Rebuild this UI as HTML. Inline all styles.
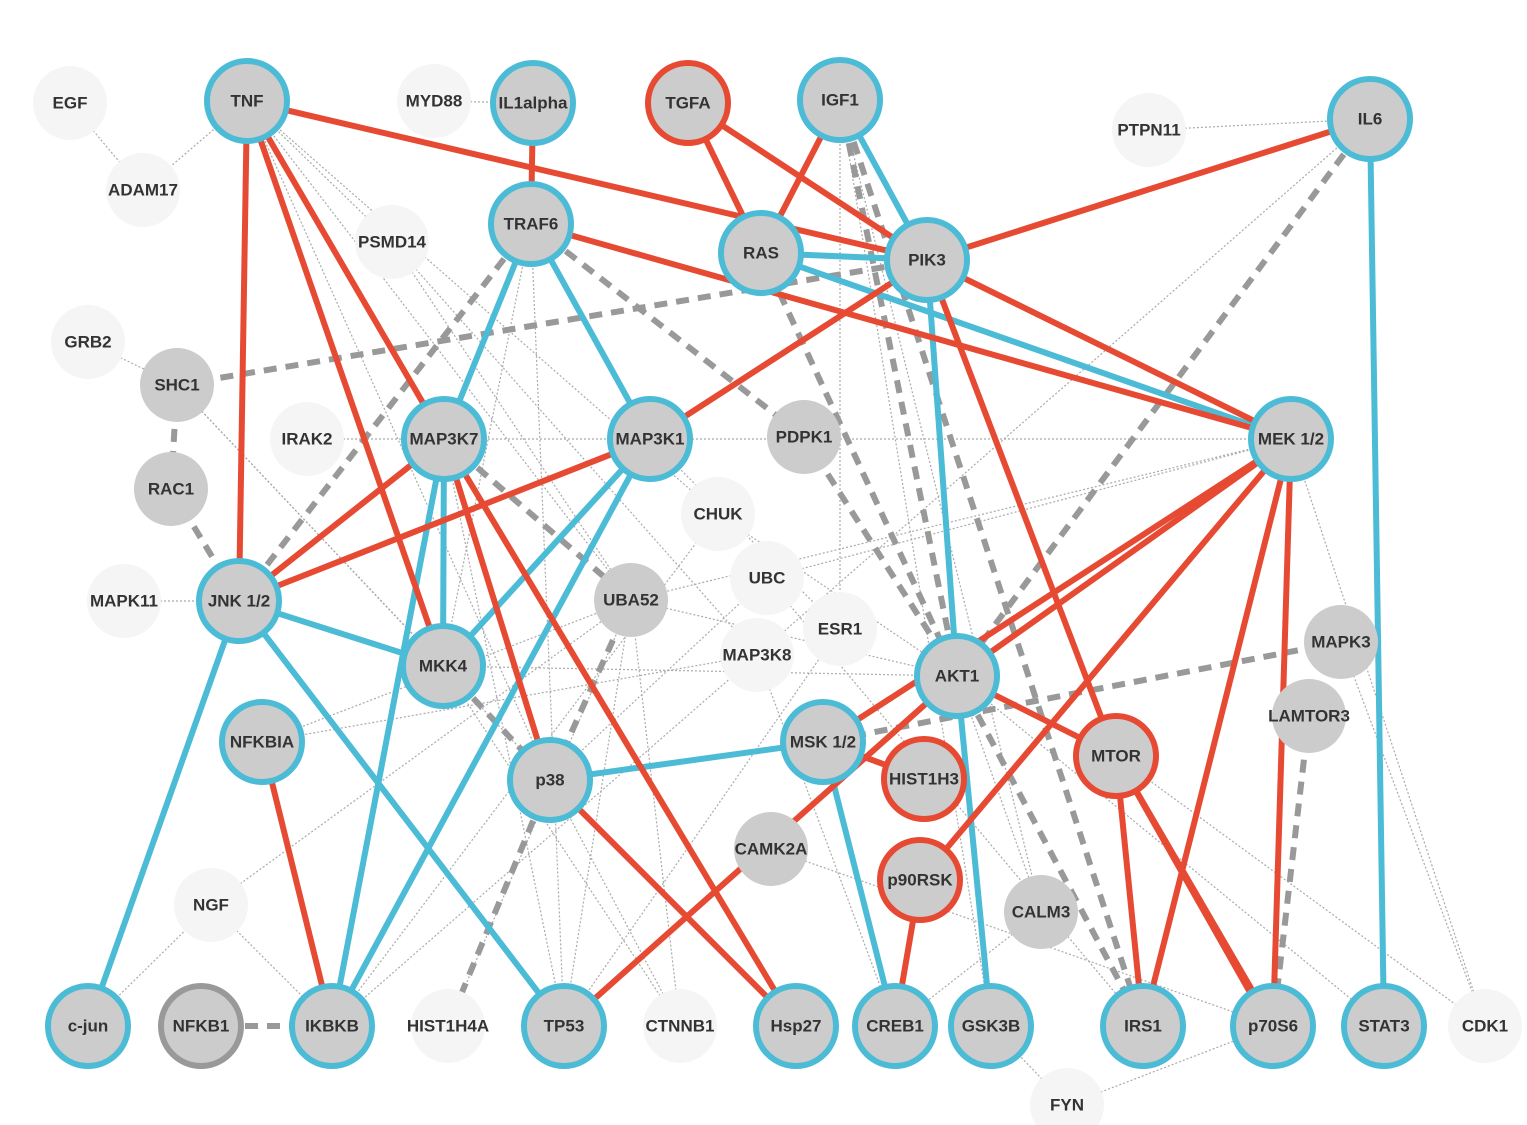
<!DOCTYPE html>
<html><head><meta charset="utf-8"><style>
html,body{margin:0;padding:0;background:#fff}
svg{display:block}
text{font-family:"Liberation Sans",sans-serif;font-weight:bold;font-size:17px;fill:#333;text-anchor:middle;dominant-baseline:central}
.r{stroke:#e64a33;stroke-width:6;fill:none}
.b{stroke:#4cbbd6;stroke-width:6;fill:none}
.d{stroke:#999;stroke-width:6;stroke-dasharray:13 9;fill:none}
.t{stroke:#aaa;stroke-width:1.2;stroke-dasharray:2 2;fill:none}
</style></head><body>
<svg width="1527" height="1125" viewBox="0 0 1527 1125" xmlns="http://www.w3.org/2000/svg">
<!-- thin dotted -->
<g class="t">
<line x1="70" y1="103" x2="143" y2="190"/><line x1="247" y1="101" x2="143" y2="190"/>
<line x1="434" y1="101" x2="533" y2="103"/><line x1="1149" y1="130" x2="1370" y2="119"/>
<line x1="88" y1="342" x2="177" y2="385"/><line x1="124" y1="601" x2="239" y2="601"/>
<line x1="247" y1="101" x2="392" y2="242"/><line x1="247" y1="101" x2="631" y2="600"/>
<line x1="247" y1="101" x2="550" y2="780"/><line x1="247" y1="101" x2="718" y2="514"/>
<line x1="392" y1="242" x2="757" y2="655"/><line x1="392" y1="242" x2="631" y2="600"/>
<line x1="444" y1="439" x2="1291" y2="439"/><line x1="307" y1="439" x2="444" y2="439"/>
<line x1="177" y1="385" x2="443" y2="666"/><line x1="177" y1="385" x2="550" y2="780"/>
<line x1="840" y1="100" x2="840" y2="629"/><line x1="840" y1="100" x2="1041" y2="912"/>
<line x1="840" y1="100" x2="991" y2="1026"/><line x1="1370" y1="119" x2="757" y2="655"/>
<line x1="1291" y1="439" x2="631" y2="600"/><line x1="1291" y1="439" x2="767" y2="578"/>
<line x1="1291" y1="439" x2="1485" y2="1026"/><line x1="1341" y1="642" x2="1485" y2="1026"/>
<line x1="443" y1="666" x2="957" y2="676"/><line x1="262" y1="742" x2="757" y2="655"/>
<line x1="262" y1="742" x2="631" y2="600"/><line x1="211" y1="905" x2="631" y2="600"/>
<line x1="88" y1="1026" x2="211" y2="905"/><line x1="211" y1="905" x2="332" y2="1026"/>
<line x1="332" y1="1026" x2="757" y2="655"/><line x1="564" y1="1026" x2="631" y2="600"/>
<line x1="564" y1="1026" x2="444" y2="439"/><line x1="564" y1="1026" x2="840" y2="629"/>
<line x1="680" y1="1026" x2="550" y2="780"/><line x1="680" y1="1026" x2="631" y2="600"/>
<line x1="680" y1="1026" x2="443" y2="666"/><line x1="757" y1="655" x2="895" y2="1026"/>
<line x1="631" y1="600" x2="957" y2="676"/><line x1="718" y1="514" x2="957" y2="676"/>
<line x1="767" y1="578" x2="1143" y2="1026"/><line x1="771" y1="849" x2="1273" y2="1026"/>
<line x1="957" y1="676" x2="1384" y2="1026"/><line x1="1116" y1="756" x2="1485" y2="1026"/>
<line x1="1067" y1="1105" x2="1273" y2="1026"/><line x1="1067" y1="1105" x2="991" y2="1026"/>
<line x1="448" y1="1026" x2="631" y2="600"/><line x1="650" y1="439" x2="840" y2="629"/>
<line x1="531" y1="224" x2="564" y2="1026"/><line x1="531" y1="224" x2="443" y2="666"/>
<line x1="1041" y1="912" x2="895" y2="1026"/><line x1="957" y1="676" x2="1041" y2="912"/>
<line x1="550" y1="780" x2="767" y2="578"/><line x1="332" y1="1026" x2="718" y2="514"/>
</g>
<!-- dashed -->
<g class="d">
<line x1="177" y1="385" x2="927" y2="260"/><line x1="177" y1="385" x2="171" y2="489"/>
<line x1="171" y1="489" x2="239" y2="601"/><line x1="531" y1="224" x2="239" y2="601"/>
<line x1="531" y1="224" x2="804" y2="437"/><line x1="804" y1="437" x2="957" y2="676"/>
<line x1="761" y1="253" x2="957" y2="676"/><line x1="840" y1="100" x2="957" y2="676"/>
<line x1="840" y1="100" x2="1143" y2="1026"/><line x1="1370" y1="119" x2="957" y2="676"/>
<line x1="1341" y1="642" x2="823" y2="742"/><line x1="1309" y1="716" x2="1273" y2="1026"/>
<line x1="201" y1="1026" x2="332" y2="1026"/><line x1="444" y1="439" x2="631" y2="600"/>
<line x1="631" y1="600" x2="550" y2="780"/><line x1="550" y1="780" x2="448" y2="1026"/>
<line x1="957" y1="676" x2="1143" y2="1026"/><line x1="443" y1="666" x2="550" y2="780"/>
</g>
<!-- blue -->
<g class="b">
<line x1="531" y1="224" x2="444" y2="439"/><line x1="531" y1="224" x2="650" y2="439"/>
<line x1="761" y1="253" x2="927" y2="260"/><line x1="761" y1="253" x2="1291" y2="439"/>
<line x1="840" y1="100" x2="927" y2="260"/><line x1="927" y1="260" x2="957" y2="676"/>
<line x1="1370" y1="119" x2="1384" y2="1026"/><line x1="444" y1="439" x2="443" y2="666"/>
<line x1="444" y1="439" x2="332" y2="1026"/><line x1="650" y1="439" x2="443" y2="666"/>
<line x1="650" y1="439" x2="332" y2="1026"/><line x1="239" y1="601" x2="443" y2="666"/>
<line x1="239" y1="601" x2="564" y2="1026"/><line x1="239" y1="601" x2="88" y2="1026"/>
<line x1="550" y1="780" x2="823" y2="742"/><line x1="823" y1="742" x2="895" y2="1026"/>
<line x1="957" y1="676" x2="991" y2="1026"/>
</g>
<!-- red -->
<g class="r">
<line x1="247" y1="101" x2="927" y2="260"/><line x1="247" y1="101" x2="239" y2="601"/>
<line x1="247" y1="101" x2="444" y2="439"/><line x1="247" y1="101" x2="443" y2="666"/>
<line x1="533" y1="103" x2="531" y2="224"/><line x1="688" y1="103" x2="761" y2="253"/>
<line x1="688" y1="103" x2="927" y2="260"/><line x1="840" y1="100" x2="761" y2="253"/>
<line x1="1370" y1="119" x2="927" y2="260"/><line x1="531" y1="224" x2="1291" y2="439"/>
<line x1="927" y1="260" x2="650" y2="439"/><line x1="927" y1="260" x2="1291" y2="439"/>
<line x1="927" y1="260" x2="1116" y2="756"/><line x1="444" y1="439" x2="239" y2="601"/>
<line x1="650" y1="439" x2="239" y2="601"/><line x1="444" y1="439" x2="550" y2="780"/>
<line x1="444" y1="439" x2="796" y2="1026"/><line x1="550" y1="780" x2="796" y2="1026"/>
<line x1="1291" y1="439" x2="957" y2="676"/><line x1="1291" y1="439" x2="823" y2="742"/>
<line x1="1291" y1="439" x2="920" y2="880"/><line x1="1291" y1="439" x2="1143" y2="1026"/>
<line x1="1291" y1="439" x2="1273" y2="1026"/><line x1="957" y1="676" x2="1116" y2="756"/>
<line x1="823" y1="742" x2="924" y2="779"/><line x1="1116" y1="756" x2="1143" y2="1026"/>
<line x1="1116" y1="756" x2="1273" y2="1026"/><line x1="1116" y1="756" x2="1260" y2="1010"/>
<line x1="920" y1="880" x2="895" y2="1026"/><line x1="262" y1="742" x2="332" y2="1026"/>
<line x1="957" y1="676" x2="564" y2="1026"/>
</g>
<!-- light nodes -->
<g fill="#f5f5f5">
<circle cx="70" cy="103" r="37"/><circle cx="143" cy="190" r="37"/><circle cx="434" cy="101" r="37"/>
<circle cx="392" cy="242" r="37"/><circle cx="1149" cy="130" r="37"/><circle cx="88" cy="342" r="37"/>
<circle cx="307" cy="439" r="37"/><circle cx="718" cy="514" r="37"/><circle cx="767" cy="578" r="37"/>
<circle cx="840" cy="629" r="37"/><circle cx="757" cy="655" r="37"/><circle cx="124" cy="601" r="37"/>
<circle cx="211" cy="905" r="37"/><circle cx="448" cy="1026" r="37"/><circle cx="680" cy="1026" r="37"/>
<circle cx="1485" cy="1026" r="37"/><circle cx="1067" cy="1105" r="37"/>
</g>
<!-- gray nodes -->
<g fill="#cccccc">
<circle cx="177" cy="385" r="37"/><circle cx="171" cy="489" r="37"/><circle cx="804" cy="437" r="37"/>
<circle cx="631" cy="600" r="37"/><circle cx="1341" cy="642" r="37"/><circle cx="1309" cy="716" r="37"/>
<circle cx="771" cy="849" r="37"/><circle cx="1041" cy="912" r="37"/>
</g>
<!-- blue-outlined -->
<g fill="#cccccc" stroke="#4cbbd6" stroke-width="6">
<circle cx="247" cy="101" r="40"/><circle cx="533" cy="103" r="40"/><circle cx="840" cy="100" r="40"/>
<circle cx="1370" cy="119" r="40"/><circle cx="531" cy="224" r="40"/><circle cx="761" cy="253" r="40"/>
<circle cx="927" cy="260" r="40"/><circle cx="444" cy="439" r="40"/><circle cx="650" cy="439" r="40"/>
<circle cx="1291" cy="439" r="40"/><circle cx="239" cy="601" r="40"/><circle cx="443" cy="666" r="40"/>
<circle cx="957" cy="676" r="40"/><circle cx="262" cy="742" r="40"/><circle cx="550" cy="780" r="40"/>
<circle cx="823" cy="742" r="40"/><circle cx="88" cy="1026" r="40"/><circle cx="332" cy="1026" r="40"/>
<circle cx="564" cy="1026" r="40"/><circle cx="796" cy="1026" r="40"/><circle cx="895" cy="1026" r="40"/>
<circle cx="991" cy="1026" r="40"/><circle cx="1143" cy="1026" r="40"/><circle cx="1273" cy="1026" r="40"/>
<circle cx="1384" cy="1026" r="40"/>
</g>
<g fill="#cccccc" stroke="#e64a33" stroke-width="6">
<circle cx="688" cy="103" r="40"/><circle cx="924" cy="779" r="40"/><circle cx="1116" cy="756" r="40"/>
<circle cx="920" cy="880" r="40"/>
</g>
<circle cx="201" cy="1026" r="40" fill="#cccccc" stroke="#999" stroke-width="6"/>
<!-- labels -->
<g>
<text x="70" y="103">EGF</text><text x="143" y="190">ADAM17</text><text x="434" y="101">MYD88</text>
<text x="392" y="242">PSMD14</text><text x="1149" y="130">PTPN11</text><text x="88" y="342">GRB2</text>
<text x="307" y="439">IRAK2</text><text x="718" y="514">CHUK</text><text x="767" y="578">UBC</text>
<text x="840" y="629">ESR1</text><text x="757" y="655">MAP3K8</text><text x="124" y="601">MAPK11</text>
<text x="211" y="905">NGF</text><text x="448" y="1026">HIST1H4A</text><text x="680" y="1026">CTNNB1</text>
<text x="1485" y="1026">CDK1</text><text x="1067" y="1105">FYN</text>
<text x="177" y="385">SHC1</text><text x="171" y="489">RAC1</text><text x="804" y="437">PDPK1</text>
<text x="631" y="600">UBA52</text><text x="1341" y="642">MAPK3</text><text x="1309" y="716">LAMTOR3</text>
<text x="771" y="849">CAMK2A</text><text x="1041" y="912">CALM3</text>
<text x="247" y="101">TNF</text><text x="533" y="103">IL1alpha</text><text x="840" y="100">IGF1</text>
<text x="1370" y="119">IL6</text><text x="531" y="224">TRAF6</text><text x="761" y="253">RAS</text>
<text x="927" y="260">PIK3</text><text x="444" y="439">MAP3K7</text><text x="650" y="439">MAP3K1</text>
<text x="1291" y="439">MEK 1/2</text><text x="239" y="601">JNK 1/2</text><text x="443" y="666">MKK4</text>
<text x="957" y="676">AKT1</text><text x="262" y="742">NFKBIA</text><text x="550" y="780">p38</text>
<text x="823" y="742">MSK 1/2</text><text x="88" y="1026">c-jun</text><text x="332" y="1026">IKBKB</text>
<text x="564" y="1026">TP53</text><text x="796" y="1026">Hsp27</text><text x="895" y="1026">CREB1</text>
<text x="991" y="1026">GSK3B</text><text x="1143" y="1026">IRS1</text><text x="1273" y="1026">p70S6</text>
<text x="1384" y="1026">STAT3</text><text x="688" y="103">TGFA</text><text x="924" y="779">HIST1H3</text>
<text x="1116" y="756">MTOR</text><text x="920" y="880">p90RSK</text><text x="201" y="1026">NFKB1</text>
</g>
</svg>
</body></html>
